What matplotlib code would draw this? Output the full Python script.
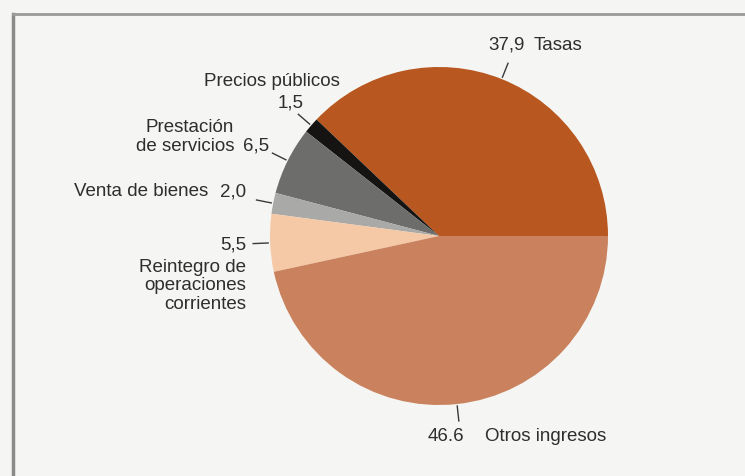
import numpy as np
import matplotlib.pyplot as plt

# datos del gráfico (porcentajes)
categorias = ["Tasas", "Precios públicos", "Prestación de servicios",
              "Venta de bienes", "Reintegro de operaciones corrientes", "Otros ingresos"]
valores = [37.9, 1.5, 6.5, 2.0, 5.5, 46.6]
etiquetas_valor = ["37,9", "1,5", "6,5", "2,0", "5,5", "46.6"]
colores = ["#b8571f", "#161412", "#6d6d6b", "#a9a9a7", "#f6c9a6", "#c9825d"]

W, H = 745, 477
fig = plt.figure(figsize=(W / 100, H / 100), dpi=100, facecolor="#f5f5f3")
ax = fig.add_axes([0, 0, 1, 1])

cx, cy, r = 439, H - 237, 169
wedges, _ = ax.pie(valores, colors=colores, startangle=0, counterclock=True,
                   center=(cx, cy), radius=r, frame=True,
                   wedgeprops=dict(linewidth=0))
ax.set_xlim(0, W)
ax.set_ylim(0, H)
ax.set_aspect("equal")
ax.axis("off")

# marco gris (borde del escaneo)
ax.plot([13, 13], [0, H - 15], color="#8a8a8a", lw=2.5)
ax.plot([13, W], [H - 15, H - 15], color="#9a9a9a", lw=2)

# líneas guía
for w in wedges:
    ang = np.deg2rad((w.theta1 + w.theta2) / 2)
    x0, y0 = cx + (r + 2) * np.cos(ang), cy + (r + 2) * np.sin(ang)
    x1, y1 = cx + (r + 17) * np.cos(ang), cy + (r + 17) * np.sin(ang)
    ax.plot([x0, x1], [y0, y1], color="#3a3a3a", lw=1)

fuente = dict(family="Liberation Sans", fontsize=13.5, color="#2e2e2e")

def t(x, y, s, ha="left", va="center"):
    ax.text(x, H - y, s, ha=ha, va=va, linespacing=1.12, **fuente)

t(488, 45, etiquetas_valor[0])
t(534, 45, "Tasas")
t(272, 82, "Precios públicos", ha="center")
t(291, 103, etiquetas_valor[1], ha="center")
t(234, 137, "Prestación\nde servicios", ha="right")
t(243, 146, etiquetas_valor[2])
t(208, 192, "Venta de bienes", ha="right")
t(220, 192, etiquetas_valor[3])
t(246, 245, etiquetas_valor[4], ha="right")
t(246, 286, "Reintegro de\noperaciones\ncorrientes", ha="right")
t(428, 437, etiquetas_valor[5])
t(485, 437, "Otros ingresos")

fig.savefig("out.png", dpi=100, facecolor=fig.get_facecolor())
